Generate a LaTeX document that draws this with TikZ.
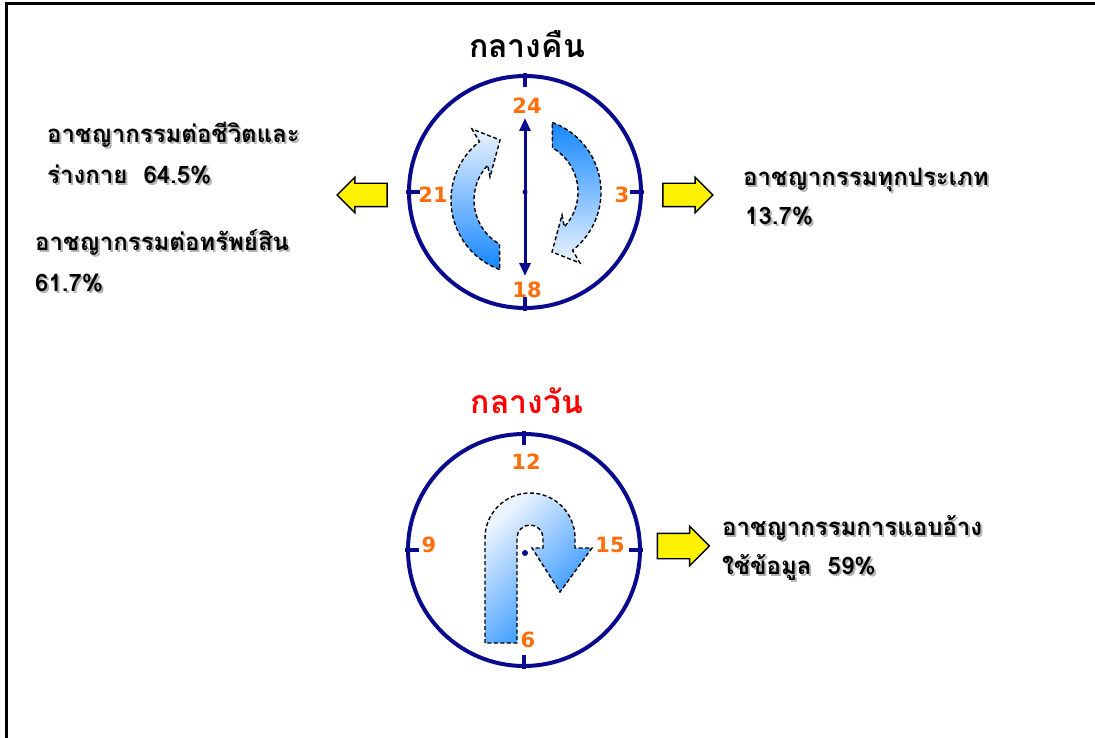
\documentclass[tikz,border=0pt]{standalone}
\usepackage{fontspec}
\usetikzlibrary{arrows.meta,shapes.arrows}
\newfontfamily\thaifont[Script=Thai]{Loma}
\setsansfont{DejaVu Sans}
\definecolor{clocknavy}{RGB}{10,10,140}
\definecolor{hourorange}{RGB}{255,110,10}
\definecolor{swirlblue}{RGB}{20,135,255}
\definecolor{swirllight}{RGB}{236,244,255}
\tikzset{
  clockface/.style={circle, draw=clocknavy, line width=4pt, minimum size=232pt, inner sep=0pt, outer sep=0pt},
  clocktick/.style={draw=clocknavy, line width=4pt},
  hour/.style={text=hourorange, font=\sffamily\bfseries\fontsize{21}{21}\selectfont, inner sep=0pt},
  swirl/.style={draw=black, line width=1.4pt, dash pattern=on 4pt off 2.5pt},
  yarrow/.style={single arrow, draw=black, line width=1.4pt, fill=yellow, minimum height=50pt, minimum width=34pt, single arrow head extend=6pt, inner sep=11pt},
  lbl/.style={font=\thaifont\bfseries\fontsize{24}{28}\selectfont, anchor=base west, inner sep=0pt},
  title/.style={font=\thaifont\bfseries\fontsize{32}{36}\selectfont, anchor=base, inner sep=0pt}
}
\newcommand{\shadowlabel}[3]{%
  \node[lbl, text=black!30] at ([shift={(2,2)}]#2) {#3};
  \node[lbl] (#1) at (#2) {#3};}
\begin{document}
\begin{tikzpicture}[x=1pt,y=-1pt]
  \useasboundingbox (0,0) rectangle (1095,738);
  \draw[line width=3pt] (6,738) -- (6,4) -- (1095,4);

  % night clock
  \node[title] (nighttitle) at (527,58) {กลางคืน};
  \node[clockface] (night) at (525,192) {};
  \draw[clocktick] ([shift={(0,-3)}]night.north) -- ([shift={(0,11)}]night.north);
  \draw[clocktick] ([shift={(0,3)}]night.south) -- ([shift={(0,-11)}]night.south);
  \draw[clocktick] ([shift={(-3,0)}]night.west) -- ([shift={(11,0)}]night.west);
  \draw[clocktick] ([shift={(3,0)}]night.east) -- ([shift={(-11,0)}]night.east);
  \node[hour] (h24) at (527,106) {24};
  \node[hour] (h21) at (433,195) {21};
  \node[hour] (h3) at (622,195) {3};
  \node[hour] (h18) at (527,290) {18};

  \shadedraw[swirl, top color=swirllight, bottom color=swirlblue]
    ([shift={(110:74)}]525,200) arc[start angle=110, end angle=232, radius=74]
    -- (472,129) -- (500,140) -- (490,177)
    -- ([shift={(223:51)}]525,200) arc[start angle=223, end angle=120, radius=51]
    -- cycle;
  \shadedraw[swirl, top color=swirlblue, bottom color=swirllight]
    ([shift={(290:74)}]527,192) arc[start angle=290, end angle=412, radius=74]
    -- (580,263) -- (552,252) -- (562,215)
    -- ([shift={(43:51)}]527,192) arc[start angle=43, end angle=-60, radius=51]
    -- cycle;

  \coordinate (top24) at (525,118);
  \coordinate (bot18) at (525,276);
  \draw[clocknavy, line width=3pt, {Triangle[length=13pt,width=11pt]}-{Triangle[length=13pt,width=11pt]}] (top24) -- (bot18);
  \fill[clocknavy] (night.center) circle[radius=2.5];

  \node[yarrow, shape border rotate=180] (leftarrow) at (368,195) {};
  \node[yarrow] (rightarrow) at (682,195) {};

  \shadowlabel{life}{47,143}{อาชญากรรมต่อชีวิตและ}
  \shadowlabel{lifepct}{47,184}{ร่างกาย\ \ 64.5\%}
  \shadowlabel{asset}{35,251}{อาชญากรรมต่อทรัพย์สิน}
  \shadowlabel{assetpct}{35,291}{61.7\%}
  \shadowlabel{all}{743,186}{อาชญากรรมทุกประเภท}
  \shadowlabel{allpct}{745,225}{13.7\%}

  % day clock
  \node[title, text=red] (daytitle) at (527,413) {กลางวัน};
  \node[clockface] (day) at (524,550) {};
  \draw[clocktick] ([shift={(0,-3)}]day.north) -- ([shift={(0,11)}]day.north);
  \draw[clocktick] ([shift={(0,3)}]day.south) -- ([shift={(0,-11)}]day.south);
  \draw[clocktick] ([shift={(-3,0)}]day.west) -- ([shift={(11,0)}]day.west);
  \draw[clocktick] ([shift={(3,0)}]day.east) -- ([shift={(-11,0)}]day.east);
  \node[hour] (h12) at (526,462) {12};
  \node[hour] (h9) at (429,545) {9};
  \node[hour] (h15) at (610,545) {15};
  \node[hour] (h6) at (528,640) {6};

  \shadedraw[swirl, top color=swirllight, bottom color=swirlblue, shading angle=45]
    (485,643) -- (485,538) arc[start angle=180, end angle=360, radius=45]
    -- (575,548) -- (592,548) -- (560,592) -- (532,548) -- (543,548) -- (543,538)
    arc[start angle=0, end angle=-180, radius=13] -- (517,643) -- cycle;
  \fill[clocknavy] (525,553) circle[radius=3];

  \node[yarrow, minimum height=52pt, minimum width=38pt, inner sep=12pt, single arrow head extend=7pt] (dayarrow) at (677,546) {};

  \shadowlabel{fraud}{722,535}{อาชญากรรมการแอบอ้าง}
  \shadowlabel{fraudpct}{722,574}{ใช้ข้อมูล\ \ 59\%}
\end{tikzpicture}
\end{document}
